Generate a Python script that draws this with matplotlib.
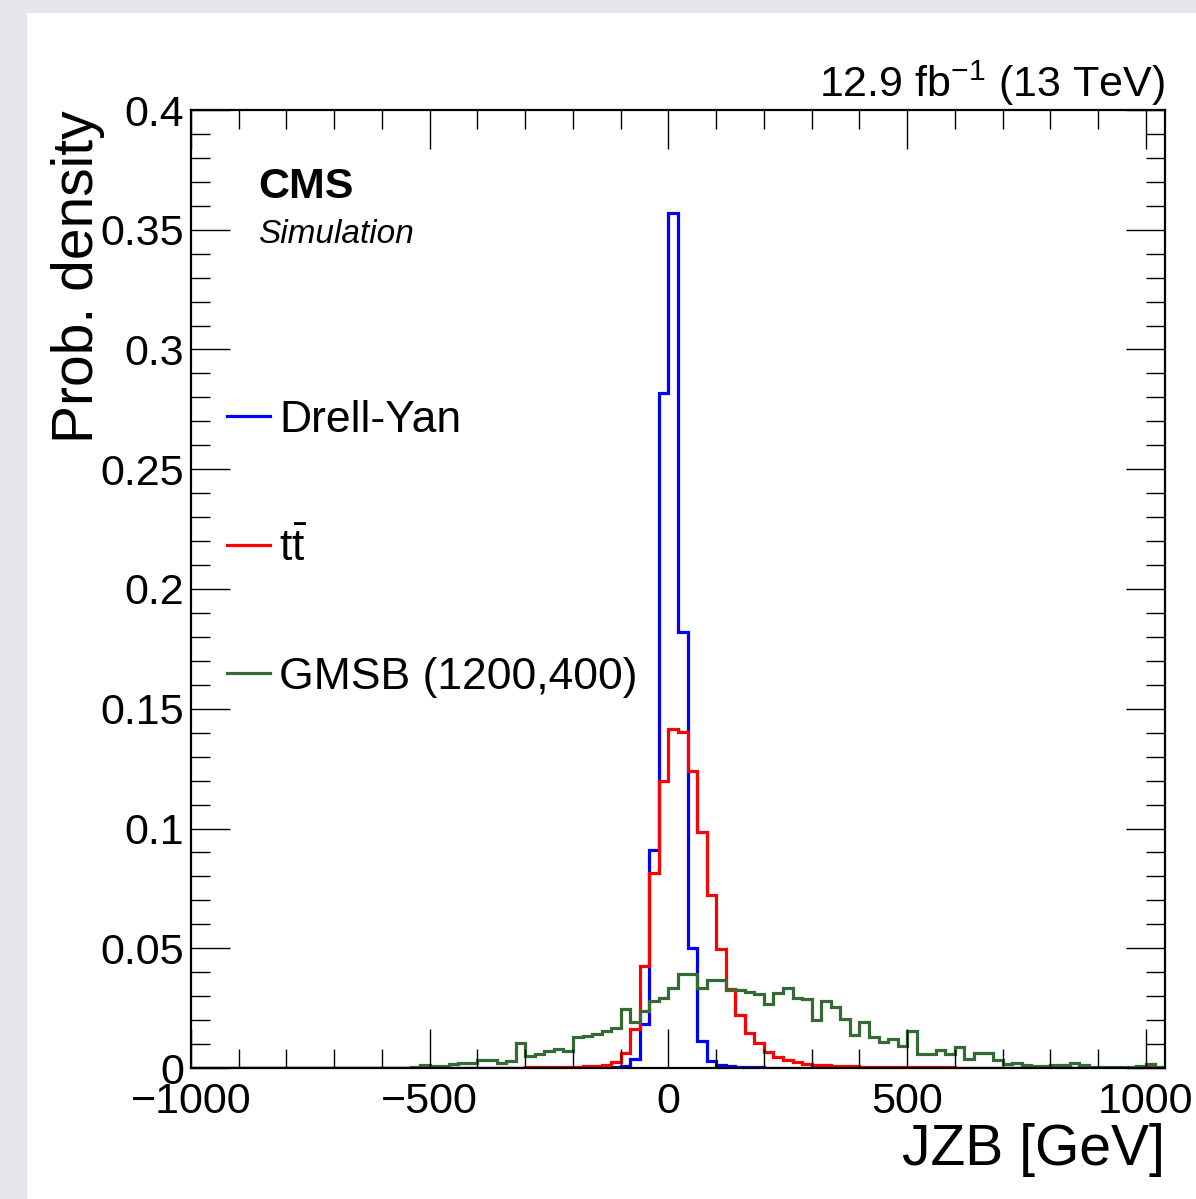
"""JZB distributions for Drell-Yan, ttbar and GMSB (CMS simulation style)."""
import matplotlib
matplotlib.use("Agg")
import matplotlib.pyplot as plt
import numpy as np
from matplotlib.lines import Line2D
from matplotlib.patches import Rectangle
from matplotlib.ticker import MultipleLocator, FuncFormatter

plt.rcParams.update({
    "font.family": ["Liberation Sans", "DejaVu Sans"],
    "mathtext.fontset": "custom",
    "mathtext.rm": "Liberation Sans",
    "mathtext.it": "Liberation Sans:italic",
    "mathtext.bf": "Liberation Sans:bold",
})

# ---- data: 20 GeV bins from -1000 to 1040 (102 bins) ----
BIN_LO, BIN_HI, BIN_W = -1000, 1040, 20
edges = np.arange(BIN_LO, BIN_HI + BIN_W, BIN_W)

drell_yan = (
    [0.0] * 40
    + [0.0001, 0.0001, 0.0002, 0.0003, 0.0005, 0.0010, 0.0039, 0.0185, 0.0909, 0.2818]   # -200 .. 0
    + [0.3570, 0.1820, 0.0499, 0.0113, 0.0029, 0.0011, 0.0007, 0.0005, 0.0004, 0.0003]   # 0 .. 200
    + [0.0002, 0.0002, 0.0002, 0.0001, 0.0001, 0.0001, 0.0001, 0.0001, 0.0001, 0.0001]   # 200 .. 400
    + [0.0] * 32
)

ttbar = (
    [0.0] * 25
    + [0.0001] * 5
    + [0.0002] * 5
    + [0.0003, 0.0003, 0.0004, 0.0004, 0.0005]
    + [0.0006, 0.0007, 0.0010, 0.0014, 0.0025, 0.0062, 0.0163, 0.0427, 0.0815, 0.1200]   # -200 .. 0
    + [0.1415, 0.1405, 0.1240, 0.0986, 0.0722, 0.0496, 0.0330, 0.0222, 0.0148, 0.0104]   # 0 .. 200
    + [0.0068, 0.0047, 0.0032, 0.0025, 0.0018, 0.0013, 0.0011, 0.0009, 0.0008, 0.0007]   # 200 .. 400
    + [0.0006, 0.0005, 0.0005, 0.0004, 0.0004, 0.0003, 0.0003, 0.0003, 0.0003, 0.0003]   # 400 .. 600
    + [0.0002] * 10
    + [0.0001] * 10
    + [0.0003, 0.0001]
)

gmsb = (
    [0.0] * 23
    + [0.0005, 0.0011, 0.0007, 0.0008, 0.0015, 0.0020, 0.0020]                            # -540 .. -400
    + [0.0032, 0.0032, 0.0020, 0.0029, 0.0104, 0.0050, 0.0060, 0.0071, 0.0081, 0.0071]   # -400 .. -200
    + [0.0130, 0.0134, 0.0141, 0.0155, 0.0165, 0.0248, 0.0190, 0.0237, 0.0281, 0.0293]   # -200 .. 0
    + [0.0332, 0.0392, 0.0394, 0.0332, 0.0369, 0.0369, 0.0325, 0.0325, 0.0318, 0.0311]   # 0 .. 200
    + [0.0269, 0.0315, 0.0336, 0.0294, 0.0287, 0.0202, 0.0280, 0.0255, 0.0206, 0.0137]   # 200 .. 400
    + [0.0192, 0.0130, 0.0109, 0.0120, 0.0091, 0.0155, 0.0060, 0.0058, 0.0075, 0.0058]   # 400 .. 600
    + [0.0088, 0.0039, 0.0062, 0.0062, 0.0035, 0.0018, 0.0020, 0.0014, 0.0010, 0.0010]   # 600 .. 800
    + [0.0014, 0.0014, 0.0019, 0.0014, 0.0004, 0.0004, 0.0006, 0.0006, 0.0006, 0.0009]   # 800 .. 1000
    + [0.0018, 0.0004]                                                                    # 1000 .. 1040
)

series = [
    ("Drell-Yan", drell_yan, "#0000ff"),
    (r"$\mathrm{t}\bar{\mathrm{t}}$", ttbar, "#ff0000"),
    ("GMSB (1200,400)", gmsb, "#356a35"),
]

W, H = 1196, 1199
fig = plt.figure(figsize=(W / 100, H / 100), dpi=100, facecolor="#e5e7ec")
fig.patches.append(Rectangle((27 / W, 0), 1 - 27 / W, 1 - 13 / H,
                             transform=fig.transFigure, facecolor="white",
                             edgecolor="none", zorder=-10))

ax = fig.add_axes([191 / W, (H - 1068) / H, (1165 - 191) / W, (1068 - 110) / H])

for name, vals, color in series:
    ax.stairs(vals, edges, color=color, linewidth=2.3, baseline=0)

ax.set_xlim(BIN_LO, BIN_HI)
ax.set_ylim(0, 0.4)

ax.xaxis.set_major_locator(MultipleLocator(500))
ax.xaxis.set_minor_locator(MultipleLocator(100))
ax.yaxis.set_major_locator(MultipleLocator(0.05))
ax.yaxis.set_minor_locator(MultipleLocator(0.01))
ax.yaxis.set_major_formatter(FuncFormatter(lambda v, p: f"{v:g}"))
ax.tick_params(which="both", direction="in", top=True, right=True,
               width=1.0, labelsize=31)
ax.tick_params(which="major", length=28)
ax.tick_params(which="minor", length=14)
ax.tick_params(axis="x", pad=10)
ax.tick_params(axis="y", pad=5)
for s in ax.spines.values():
    s.set_linewidth(1.6)

# axis titles, ROOT style (right/top aligned)
fig.text(1165 / W, 1 - 1150 / H, "JZB [GeV]", ha="right", va="center", fontsize=41)
fig.text(78 / W, 1 - 110 / H, "Prob. density", rotation=90, ha="center",
         va="top", fontsize=41)

fig.text(258 / W, 1 - 198 / H, "CMS", fontsize=31, fontweight="bold", va="baseline")
fig.text(258 / W, 1 - 243 / H, "Simulation", fontsize=24, style="italic", va="baseline")
fig.text(1165 / W, 1 - 97 / H, r"12.9 fb$^{-1}$ (13 TeV)", fontsize=31,
         ha="right", va="baseline")

handles = [Line2D([], [], color=c, linewidth=2.3) for _, _, c in series]
ax.legend(handles, [n for n, _, _ in series], loc="upper left",
          bbox_to_anchor=(227 / W, 1 - 400 / H), bbox_transform=fig.transFigure,
          frameon=False, fontsize=32, handlelength=0.97, handletextpad=0.2,
          labelspacing=1.96, borderpad=0, borderaxespad=0)

fig.savefig("out.png", dpi=100, facecolor=fig.get_facecolor())
